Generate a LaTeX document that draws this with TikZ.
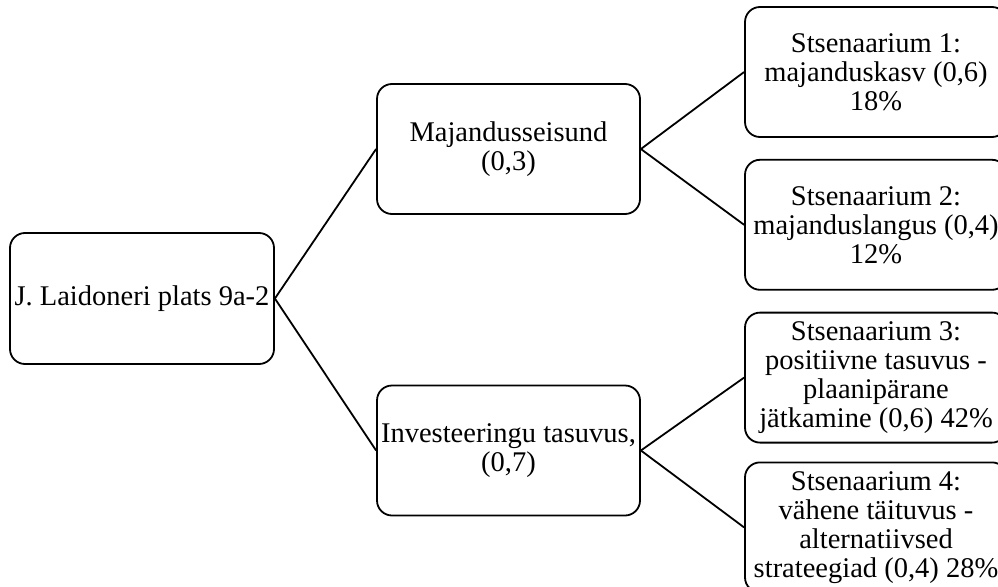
\documentclass[tikz,border=0pt]{standalone}
\usepackage{fontspec}
\setmainfont{Liberation Serif}
\usetikzlibrary{positioning}

\begin{document}
\begin{tikzpicture}[
    x=1pt, y=-1pt,
    % 节点样式
    box/.style={rectangle, draw, rounded corners=15pt, line width=1.8pt, align=center, inner sep=2pt,
        font=\fontsize{28.5}{29}\selectfont},
    root/.style={box, minimum width=264pt, minimum height=131pt},
    factor/.style={box, minimum width=263pt, minimum height=130pt},
    scen/.style={box, minimum width=262pt, minimum height=130pt},
    line/.style={line width=1.8pt},
    node distance=21pt
]
\useasboundingbox (0,0) rectangle (998,586);

% 根节点
\node (plats) [root] at (142,298.5) {J. Laidoneri plats 9a-2};

% 中间层
\node (seisund) [factor] at (508.5,149) {Majandusseisund\\(0,3)};
\node (tasuvus) [factor] at (508.5,450.5) {Investeeringu tasuvus,\\(0,7)};

% 情景
\node (sts1) [scen] at (876,72) {Stsenaarium 1:\\majanduskasv (0,6)\\18\%};
\node (sts2) [scen, below=of sts1] {Stsenaarium 2:\\majanduslangus (0,4)\\12\%};
\node (sts3) [scen, below=of sts2] {Stsenaarium 3:\\positiivne tasuvus -\\plaanipärane\\jätkamine (0,6) 42\%};
\node (sts4) [scen, below=18pt of sts3] {Stsenaarium 4:\\vähene täituvus -\\alternatiivsed\\strateegiad (0,4) 28\%};

% --- 连线 ---
\draw [line] (plats.east) -- (seisund.west);
\draw [line] (plats.east) -- (tasuvus.west);
\draw [line] (seisund.east) -- (sts1.west);
\draw [line] (seisund.east) -- (sts2.west);
\draw [line] (tasuvus.east) -- (sts3.west);
\draw [line] (tasuvus.east) -- (sts4.west);

\end{tikzpicture}
\end{document}
